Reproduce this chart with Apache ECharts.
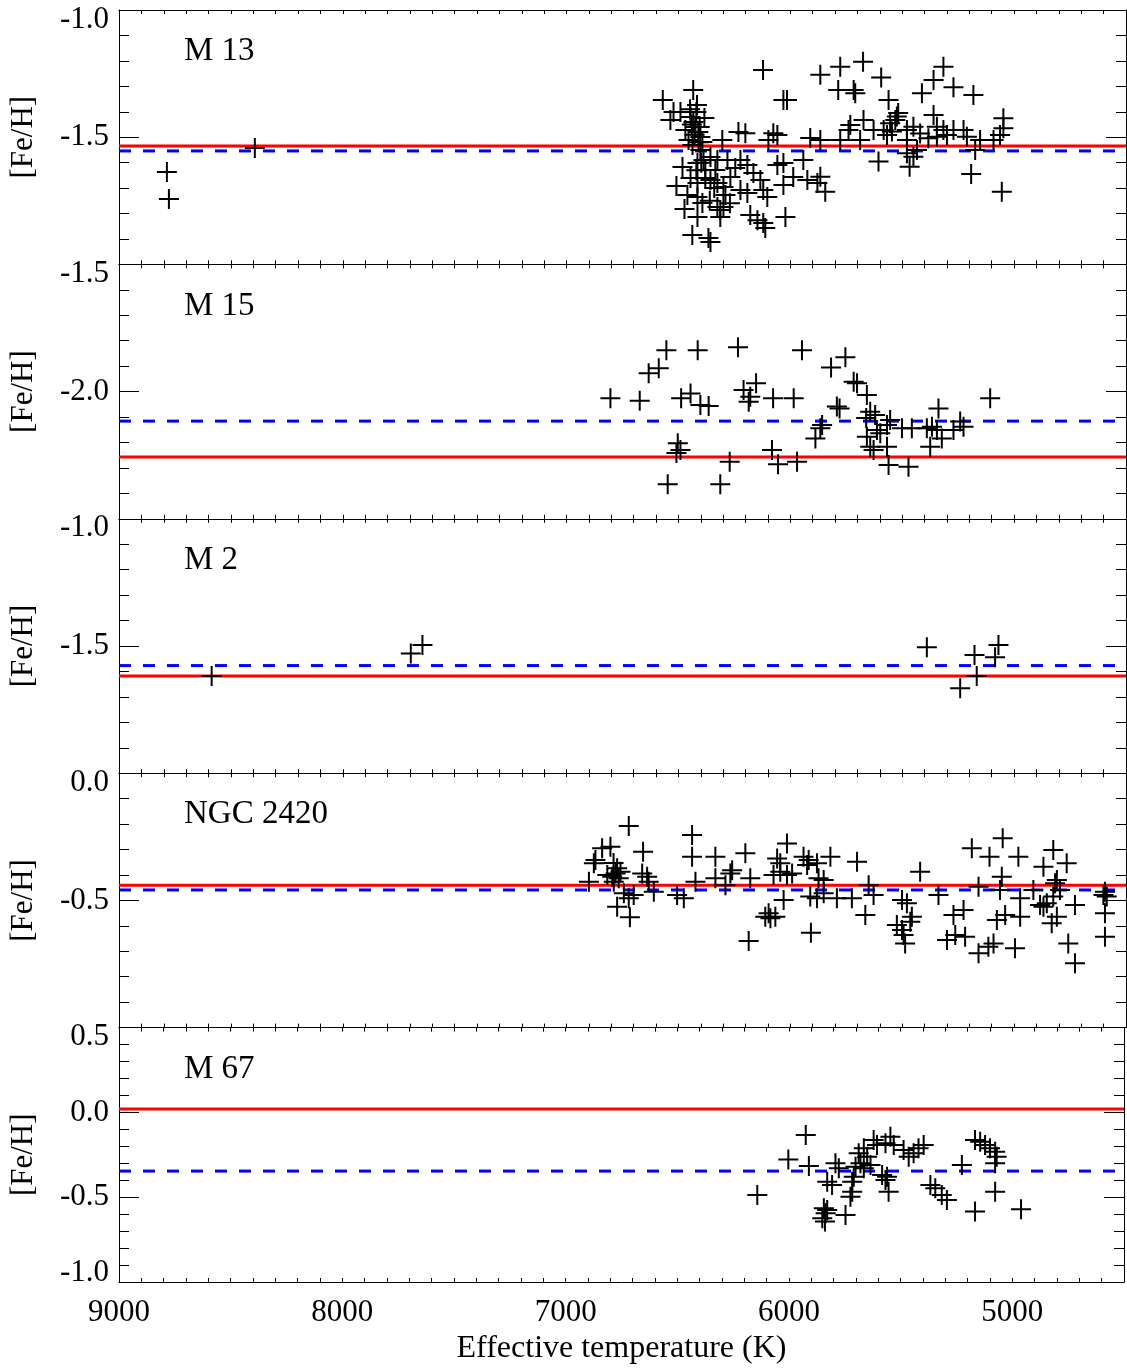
<!DOCTYPE html>
<html><head><meta charset="utf-8">
<script src="https://cdn.jsdelivr.net/npm/echarts@6/dist/echarts.min.js"></script>
<style>html,body{margin:0;padding:0;background:#fff}#c{width:1127px;height:1368px}</style>
</head><body><div id="c"></div>
<script>
const panelNames = ['M 13', 'M 15', 'M 2', 'NGC 2420', 'M 67'];
const yMin = [-2.0, -2.5, -2.0, -1.0, -1.0];
const yMax = [-1.0, -1.5, -1.0, 0.0, 0.5];
const redLevel = [-1.535, -2.257, -1.618, -0.440, 0.020];
const blueLevel = [-1.554, -2.116, -1.577, -0.459, -0.346];
const xTickLabels = [5000, 6000, 7000, 8000, 9000];
const xTitle = 'Effective temperature (K)';
const yTitle = '[Fe/H]';

const m13 = [
[8786,-1.637],[8777,-1.743],[8393,-1.542],
[6122,-1.236],[6434,-1.314],[6570,-1.354],[6031,-1.354],[6015,-1.354],[6536,-1.432],[6522,-1.401],[6491,-1.401],[6417,-1.373],
[6446,-1.421],[6433,-1.440],[6424,-1.460],[6411,-1.480],[6402,-1.499],[6455,-1.511],[6437,-1.531],[6402,-1.550],[6384,-1.425],[6469,-1.472],[6420,-1.401],[6393,-1.519],
[6440,-1.450],[6428,-1.490],[6410,-1.520],[6448,-1.390],[6405,-1.460],[6398,-1.600],[6380,-1.660],[6340,-1.700],[6360,-1.750],[6270,-1.760],[6420,-1.630],
[6232,-1.480],[6201,-1.484],[6076,-1.484],[6058,-1.491],[6098,-1.511],[5911,-1.503],[5866,-1.511],[6304,-1.511],
[6482,-1.617],[6415,-1.601],[6388,-1.590],[6357,-1.578],[6326,-1.590],[6281,-1.590],[6223,-1.590],[6192,-1.609],[6165,-1.641],[6058,-1.609],[6031,-1.601],[5942,-1.590],
[6446,-1.660],[6415,-1.680],[6357,-1.668],[6326,-1.680],[6299,-1.696],[6268,-1.656],[6223,-1.708],[6192,-1.719],[6121,-1.708],[6103,-1.735],[6031,-1.688],[5987,-1.656],[5924,-1.668],[5879,-1.680],
[6415,-1.735],[6393,-1.759],[6326,-1.774],[6313,-1.786],[6299,-1.774],[6415,-1.814],[6179,-1.806],[6147,-1.826],[6121,-1.837],[6022,-1.814],[6112,-1.857],[6366,-1.896],[6357,-1.912],[6313,-1.814],
[6509,-1.692],[6460,-1.727],[6438,-1.884],[6473,-1.782],[6380,-1.629],[6335,-1.629],[6246,-1.621],[6290,-1.727],[6134,-1.668],
[5866,-1.255],[5777,-1.223],[5675,-1.203],[5594,-1.265],[5786,-1.314],[5717,-1.314],[5710,-1.327],[5561,-1.354],[5316,-1.223],[5360,-1.275],[5271,-1.304],[5412,-1.327],[5182,-1.334],
[5518,-1.405],[5524,-1.419],[5531,-1.432],[5554,-1.445],[5673,-1.432],[5732,-1.452],[5740,-1.472],[5360,-1.413],[5048,-1.426],[5048,-1.465],
[5628,-1.472],[5583,-1.472],[5568,-1.491],[5546,-1.478],[5479,-1.472],[5450,-1.459],[5420,-1.485],[5383,-1.504],[5345,-1.459],[5316,-1.472],[5300,-1.491],[5271,-1.472],[5226,-1.472],[5211,-1.498],[5152,-1.511],[5092,-1.511],[5063,-1.491],[5345,-1.498],[5479,-1.511],[5777,-1.511],[5688,-1.511],
[5606,-1.596],[5467,-1.616],[5479,-1.563],[5450,-1.577],[5434,-1.550],[5174,-1.550],[5192,-1.645],[5055,-1.714],[5844,-1.714],[5866,-1.655]
];
const m15 = [
[6554,-1.837],[6414,-1.837],[6234,-1.826],[5948,-1.837],[6633,-1.928],[6588,-1.908],[6804,-2.026],[6673,-2.036],[6488,-2.026],[6446,-2.007],[6402,-2.053],[6365,-2.057],[6209,-1.994],[6153,-1.967],[6179,-2.020],[6186,-2.040],[6077,-2.026],[5985,-2.026],[6503,-2.203],[6491,-2.230],[6509,-2.241],[6271,-2.276],[6082,-2.230],[6055,-2.286],[5970,-2.276],[6548,-2.364],[6313,-2.364],
[5754,-1.865],[5818,-1.905],[5717,-1.961],[5702,-1.967],[5658,-2.013],[5780,-2.066],[5792,-2.059],[5643,-2.079],[5621,-2.092],[5661,-2.104],[5554,-2.112],[5568,-2.131],[5858,-2.131],[5866,-2.144],[5888,-2.184],[5613,-2.151],[5598,-2.164],[5643,-2.217],[5658,-2.177],[5628,-2.230],[5568,-2.217],[5501,-2.144],[5457,-2.144],[5390,-2.144],[5367,-2.138],[5345,-2.151],[5338,-2.066],[5323,-2.184],[5375,-2.217],[5271,-2.151],[5241,-2.118],[5226,-2.138],[5107,-2.026],[5561,-2.289],[5472,-2.295]
];
const m2 = [
[8586,-1.618],[7696,-1.529],[7644,-1.496],[5390,-1.505],[5177,-1.535],[5070,-1.496],[5085,-1.544],[5167,-1.618],[5241,-1.666]
];
const ngc2420 = [
[6722,-0.208],[6841,-0.295],[6804,-0.289],[6878,-0.354],[6871,-0.341],[6658,-0.309],[6790,-0.353],[6774,-0.374],[6781,-0.394],[6759,-0.387],[6796,-0.407],[6767,-0.413],[6789,-0.427],[6818,-0.400],[6900,-0.427],[6662,-0.394],[6640,-0.407],[6633,-0.427],[6744,-0.472],[6700,-0.479],[6722,-0.492],[6610,-0.466],[6774,-0.525],[6717,-0.566],
[6439,-0.243],[6439,-0.328],[6335,-0.328],[6201,-0.315],[6424,-0.427],[6335,-0.413],[6260,-0.381],[6268,-0.394],[6290,-0.440],[6179,-0.413],[6506,-0.479],[6476,-0.492],
[6015,-0.276],[6059,-0.335],[6045,-0.354],[6075,-0.400],[6045,-0.387],[6015,-0.400],[5992,-0.394],[6030,-0.498],[6112,-0.564],[6097,-0.551],[6089,-0.570],[6067,-0.564],[6186,-0.660],
[5941,-0.328],[5918,-0.341],[5881,-0.354],[5925,-0.361],[5821,-0.328],[5874,-0.413],[5851,-0.420],[5911,-0.485],[5881,-0.492],[5851,-0.472],[5792,-0.492],[5908,-0.627],
[5702,-0.348],[5650,-0.440],[5725,-0.492],[5628,-0.479],[5665,-0.557],[5420,-0.387],[5501,-0.498],[5479,-0.511],[5457,-0.564],[5464,-0.584],[5524,-0.597],[5501,-0.616],[5494,-0.636],[5487,-0.669],[5338,-0.479],[5271,-0.557],[5226,-0.538],[5300,-0.656],[5263,-0.636],[5219,-0.643],
[5189,-0.295],[5110,-0.328],[5051,-0.256],[4981,-0.328],[5159,-0.446],[5055,-0.407],[5063,-0.459],[4973,-0.492],[5077,-0.577],[5040,-0.557],[4973,-0.564],[5159,-0.708],[5115,-0.682],[5092,-0.669],[4996,-0.688],
[4869,-0.368],[4825,-0.302],[4765,-0.354],[4809,-0.420],[4817,-0.433],[4795,-0.459],[4825,-0.485],[4884,-0.518],[4869,-0.525],[4854,-0.511],[4914,-0.459],[4728,-0.518],[4809,-0.564],[4832,-0.590],[4758,-0.669],[4728,-0.747],[4594,-0.466],[4601,-0.479],[4586,-0.485],[4594,-0.551],[4594,-0.643]
];
const m67 = [
[6142,-0.487],[6003,-0.277],[5925,-0.133],[5911,-0.316],[5829,-0.409],[5807,-0.428],[5844,-0.565],[5836,-0.595],[5851,-0.624],[5839,-0.644],[5829,-0.575],[5747,-0.605],
[5792,-0.300],[5777,-0.330],[5717,-0.468],[5725,-0.497],[5710,-0.379],[5717,-0.409],[5688,-0.241],[5665,-0.212],[5650,-0.261],[5702,-0.320],[5680,-0.300],[5665,-0.330],[5635,-0.310],
[5621,-0.163],[5606,-0.192],[5568,-0.182],[5546,-0.143],[5531,-0.192],[5583,-0.369],[5561,-0.379],[5568,-0.399],[5554,-0.468],
[5487,-0.222],[5464,-0.261],[5442,-0.241],[5420,-0.212],[5397,-0.192],[5367,-0.428],[5345,-0.447],[5316,-0.487],[5293,-0.516],[5226,-0.310],
[5167,-0.163],[5144,-0.173],[5122,-0.192],[5100,-0.212],[5077,-0.232],[5070,-0.261],[5077,-0.300],[5077,-0.468],[5167,-0.585],[4961,-0.571]
];
const clusters = [m13, m15, m2, ngc2420, m67];

const FONT = 'Liberation Serif';
const FS = 31;
const TOP0 = 10, H = 254.4;
const plus = 'path://M9,0h2v9h9v2h-9v9h-2v-9h-9v-2h9z';

const chart = echarts.init(document.getElementById('c'), null, {renderer: 'canvas'});
const grids = [], xAxes = [], yAxes = [], series = [], titles = [];

for (let i = 0; i < 5; i++) {
  const last = i === 4;
  const top = TOP0 + H * i;
  grids.push({left: 118, right: 1, top: top, height: H});
  const xCommon = {
    type: 'value', gridIndex: i, min: 4500, max: 9000, interval: 100, inverse: true,
    axisLine: {show: true, onZero: false, lineStyle: {color: '#000', width: 1}},
    axisTick: {show: true, inside: true, length: 4, lineStyle: {color: '#000', width: 1}},
    splitLine: {show: false}
  };
  xAxes.push(Object.assign({}, xCommon, {
    position: 'bottom',
    axisLabel: {show: last, margin: 15, color: '#000', fontFamily: FONT, fontSize: FS,
      formatter: v => xTickLabels.includes(Math.round(v)) ? String(Math.round(v)) : ''},
    name: last ? xTitle : '', nameLocation: 'middle', nameGap: 51,
    nameTextStyle: {color: '#000', fontFamily: FONT, fontSize: 32}
  }));
  xAxes.push(Object.assign({}, xCommon, {position: 'top', axisLabel: {show: false}}));

  const rich = {
    t: {fontFamily: FONT, fontSize: FS, color: '#000', padding: [19, 0, 0, 0]},
    b: {fontFamily: FONT, fontSize: FS, color: '#000', padding: [0, 0, 18, 0]},
    m: {fontFamily: FONT, fontSize: FS, color: '#000'}
  };
  const yCommon = {
    type: 'value', gridIndex: i, min: yMin[i], max: yMax[i], interval: 0.5,
    axisLine: {show: true, onZero: false, lineStyle: {color: '#000', width: 1}},
    axisTick: {show: true, inside: true, length: 20, lineStyle: {color: '#000', width: 1}},
    minorTick: {show: true, splitNumber: 5, length: 10, lineStyle: {color: '#000', width: 1}},
    splitLine: {show: false}, minorSplitLine: {show: false}
  };
  yAxes.push(Object.assign({}, yCommon, {
    position: 'left',
    axisLabel: {show: true, margin: 10, color: '#000', fontFamily: FONT, fontSize: FS, rich: rich,
      formatter: v => {
        const s = (Math.abs(v) < 1e-9 ? 0 : v).toFixed(1);
        if (Math.abs(v - yMax[i]) < 1e-9) return '{t|' + s + '}';
        if (Math.abs(v - yMin[i]) < 1e-9) return last ? '{b|' + s + '}' : '';
        return '{m|' + s + '}';
      }},
    name: yTitle, nameLocation: 'middle', nameGap: 80,
    nameTextStyle: {color: '#000', fontFamily: FONT, fontSize: FS}
  }));
  yAxes.push(Object.assign({}, yCommon, {position: 'right', axisLabel: {show: false}}));

  titles.push({text: panelNames[i], left: 179, top: top + 20,
    textStyle: {color: '#000', fontFamily: FONT, fontSize: 33, fontWeight: 'normal'}});

  series.push({type: 'line', xAxisIndex: 2 * i, yAxisIndex: 2 * i, silent: true, z: 3,
    data: [[9000, redLevel[i]], [4500, redLevel[i]]], showSymbol: false, symbol: 'none',
    lineStyle: {color: '#ff0000', width: 3}});
  series.push({type: 'line', xAxisIndex: 2 * i, yAxisIndex: 2 * i, silent: true, z: 3,
    data: [[9000, blueLevel[i]], [4500, blueLevel[i]]], showSymbol: false, symbol: 'none',
    lineStyle: {color: '#0000ff', width: 3, type: [12, 12]}});
  series.push({type: 'scatter', xAxisIndex: 2 * i, yAxisIndex: 2 * i, z: 4,
    data: clusters[i], symbol: plus, symbolSize: 20,
    itemStyle: {color: '#000', opacity: 1}});
}

chart.setOption({
  animation: false,
  backgroundColor: '#fff',
  title: titles,
  grid: grids,
  xAxis: xAxes,
  yAxis: yAxes,
  series: series
});
</script>
</body></html>
